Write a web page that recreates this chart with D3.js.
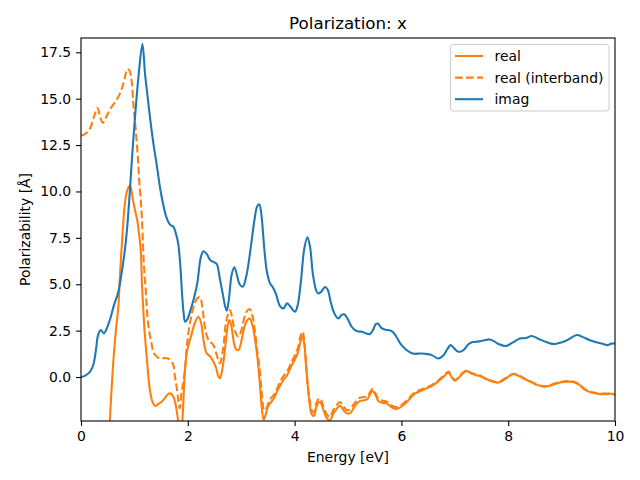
<!DOCTYPE html>
<html>
<head>
<meta charset="utf-8">
<script src="https://cdn.jsdelivr.net/npm/d3@7"></script>
<style>
  html, body { margin: 0; padding: 0; background: #fff; }
  svg { display: block; font-family: "DejaVu Sans", sans-serif; }
</style>
</head>
<body>
<svg id="chart" width="640" height="480"></svg>
<script>
// ---------------- data ----------------
const chartTitle = "Polarization: x";
const xLabel = "Energy [eV]";
const yLabel = "Polarizability [Å]";
const xTicks = [0, 2, 4, 6, 8, 10];
const yTicks = [0, 2.5, 5, 7.5, 10, 12.5, 15, 17.5];
const seriesNames = ["real", "real (interband)", "imag"];

const realE = [0.45,0.50,0.54,0.58,0.62,0.66,0.70,0.73,0.78,0.82,0.87,0.92,0.97,1.01,1.05,1.08,1.12,1.14,1.16,1.19,1.23,1.29,1.34,1.39,1.45,1.51,1.58,1.64,1.67,1.73,1.78,1.82,1.86,1.90,1.94,1.98,2.03,2.07,2.13,2.20,2.25,2.30,2.35,2.42,2.48,2.53,2.57,2.60,2.64,2.70,2.75,2.78,2.82,2.86,2.90,2.95,3.00,3.06,3.11,3.16,3.21,3.26,3.31,3.35,3.38,3.42,3.46,3.50,3.54,3.60,3.66,3.72,3.79,3.86,3.94,4.00,4.06,4.11,4.15,4.18,4.21,4.24,4.28,4.32,4.36,4.41,4.46,4.50,4.54,4.60,4.66,4.72,4.79,4.85,4.92,4.98,5.04,5.10,5.16,5.22,5.30,5.36,5.41,5.46,5.52,5.57,5.64,5.72,5.80,5.90,5.97,6.04,6.15,6.25,6.36,6.47,6.56,6.66,6.74,6.82,6.88,6.94,7.00,7.07,7.15,7.23,7.30,7.40,7.47,7.56,7.66,7.80,7.92,8.02,8.10,8.20,8.30,8.41,8.52,8.66,8.80,8.92,9.03,9.13,9.22,9.32,9.42,9.52,9.62,9.72,9.85,9.93,10.00];
const realV = [-12,-5.5,-2.4,-0.3,1.4,2.7,3.8,5.5,7.8,9.3,10.1,10.3,9.6,9.0,8.5,7.9,6.8,5.1,4.0,2.5,1.1,-0.7,-1.35,-1.56,-1.45,-1.33,-1.1,-0.9,-0.88,-1.06,-1.6,-2.4,-3.6,-2.3,0.0,1.3,1.9,2.3,2.9,3.25,2.9,1.9,1.3,1.1,0.82,0.5,0.05,-0.07,0.3,1.6,2.8,3.07,2.7,1.9,1.5,1.45,1.9,2.7,3.05,3.15,2.8,2.0,0.9,-0.4,-1.5,-2.3,-2.0,-1.6,-1.42,-1.2,-0.85,-0.5,-0.16,0.1,0.6,0.92,1.3,1.9,2.2,1.8,0.8,-0.3,-1.4,-2.0,-2.1,-1.6,-1.35,-1.45,-1.78,-2.2,-2.35,-2.0,-1.7,-1.55,-1.8,-1.96,-1.95,-1.7,-1.45,-1.3,-1.25,-1.2,-0.95,-0.75,-1.0,-1.3,-1.38,-1.42,-1.6,-1.72,-1.65,-1.51,-1.2,-0.9,-0.75,-0.61,-0.5,-0.3,-0.1,0.1,0.25,0.0,-0.2,-0.05,0.2,0.32,0.2,0.1,0.05,-0.08,-0.2,-0.31,-0.15,0.05,0.15,0.05,-0.1,-0.25,-0.4,-0.52,-0.45,-0.33,-0.27,-0.25,-0.27,-0.4,-0.65,-0.8,-0.88,-0.92,-0.92,-0.9,-0.97];

const interE = [0.00,0.08,0.17,0.24,0.31,0.36,0.41,0.47,0.54,0.62,0.70,0.76,0.81,0.87,0.91,0.95,0.98,1.01,1.04,1.07,1.09,1.12,1.14,1.16,1.18,1.21,1.23,1.27,1.32,1.36,1.39,1.44,1.50,1.56,1.63,1.69,1.73,1.76,1.79,1.82,1.85,1.88,1.92,1.95,1.98,2.01,2.06,2.12,2.18,2.23,2.27,2.32,2.37,2.42,2.48,2.54,2.60,2.66,2.72,2.79,2.83,2.88,2.95,3.01,3.07,3.12,3.16,3.21,3.26,3.31,3.35,3.39,3.43,3.47,3.51,3.54,3.60,3.66,3.72,3.79,3.86,3.94,4.00,4.06,4.11,4.15,4.18,4.21,4.24,4.28,4.32,4.36,4.41,4.46,4.50,4.54,4.60,4.66,4.72,4.79,4.85,4.92,4.98,5.04,5.10,5.16,5.22,5.30,5.36,5.41,5.46,5.52,5.57,5.64,5.72,5.80,5.90,5.97,6.04,6.15,6.25,6.36,6.47,6.56,6.66,6.74,6.82,6.88,6.94,7.00,7.07,7.15,7.23,7.30,7.40,7.47,7.56,7.66,7.80,7.92,8.02,8.10,8.20,8.30,8.41,8.52,8.66,8.80,8.92,9.03,9.13,9.22,9.32,9.42,9.52,9.62,9.72,9.85,9.93,10.00];
const interV = [13.0,13.1,13.4,14.0,14.5,14.0,13.7,14.0,14.4,14.75,15.1,15.5,16.0,16.6,16.5,15.9,14.75,13.8,12.8,11.6,10.6,9.5,8.6,7.2,5.95,4.8,3.79,2.6,1.82,1.3,1.19,1.05,1.0,1.02,1.0,0.85,0.65,0.0,-0.52,-1.2,-1.69,-0.9,-0.2,0.56,1.6,2.35,3.2,3.9,4.25,4.3,3.8,2.7,2.1,1.9,1.72,1.2,0.74,1.5,3.0,3.61,3.2,2.5,2.17,2.6,3.3,3.6,3.65,3.3,2.4,1.2,0.3,-1.0,-1.8,-1.7,-1.4,-1.2,-1.0,-0.7,-0.3,0.05,0.3,0.8,1.15,1.55,2.2,2.45,2.0,0.9,-0.2,-1.2,-1.8,-1.9,-1.4,-1.15,-1.25,-1.6,-2.0,-2.15,-1.8,-1.5,-1.35,-1.6,-1.78,-1.75,-1.5,-1.28,-1.12,-1.08,-1.05,-0.82,-0.63,-0.9,-1.18,-1.27,-1.32,-1.5,-1.62,-1.56,-1.42,-1.12,-0.83,-0.69,-0.56,-0.45,-0.26,-0.06,0.14,0.29,0.04,-0.16,-0.01,0.24,0.36,0.24,0.13,0.08,-0.05,-0.17,-0.28,-0.12,0.08,0.18,0.08,-0.07,-0.22,-0.37,-0.49,-0.42,-0.3,-0.24,-0.22,-0.24,-0.37,-0.62,-0.77,-0.85,-0.89,-0.89,-0.87,-0.94];

const imagE = [0.00,0.08,0.17,0.23,0.28,0.32,0.37,0.43,0.48,0.54,0.62,0.70,0.76,0.82,0.86,0.91,0.96,1.02,1.08,1.15,1.20,1.24,1.30,1.36,1.42,1.48,1.54,1.60,1.67,1.73,1.78,1.82,1.86,1.89,1.92,1.95,1.99,2.05,2.12,2.18,2.24,2.29,2.35,2.42,2.48,2.54,2.60,2.66,2.70,2.73,2.77,2.82,2.87,2.92,2.97,3.03,3.10,3.18,3.25,3.30,3.34,3.38,3.43,3.48,3.54,3.60,3.66,3.72,3.79,3.86,3.92,3.97,4.01,4.06,4.12,4.18,4.24,4.29,4.34,4.40,4.44,4.50,4.57,4.62,4.68,4.75,4.82,4.88,4.93,5.00,5.06,5.13,5.20,5.26,5.34,5.41,5.47,5.52,5.56,5.62,5.70,5.78,5.85,5.92,5.98,6.08,6.18,6.25,6.35,6.45,6.57,6.69,6.78,6.86,6.92,6.97,7.04,7.10,7.18,7.25,7.32,7.45,7.55,7.64,7.72,7.82,7.96,8.08,8.22,8.33,8.44,8.55,8.68,8.80,8.88,8.98,9.10,9.20,9.29,9.40,9.52,9.65,9.78,9.86,9.93,10.00];
const imagV = [0.00,0.08,0.29,0.65,1.46,2.26,2.53,2.35,2.6,3.07,3.9,4.6,5.6,6.8,7.9,9.8,12.0,14.3,16.3,17.95,16.3,15.3,13.8,12.5,11.4,10.2,9.3,8.6,8.2,8.1,7.7,7.2,6.0,4.6,3.5,2.98,3.1,3.6,4.3,5.1,6.4,6.78,6.65,6.3,6.2,6.1,5.3,4.4,3.8,3.58,4.2,5.5,5.92,5.5,5.0,4.87,5.5,7.0,8.5,9.2,9.3,8.7,7.0,5.7,5.05,4.8,4.4,3.85,3.7,3.97,3.8,3.6,3.52,3.9,5.2,6.9,7.53,7.0,5.6,4.7,4.5,4.6,4.85,4.7,4.0,3.4,3.16,3.35,3.38,3.1,2.75,2.53,2.45,2.44,2.35,2.32,2.55,2.85,2.88,2.65,2.55,2.52,2.4,2.1,1.8,1.5,1.3,1.25,1.27,1.25,1.18,1.0,1.15,1.5,1.72,1.6,1.4,1.36,1.5,1.75,1.87,1.92,1.98,2.03,1.95,1.78,1.67,1.85,2.08,2.1,2.21,2.08,1.92,1.8,1.78,1.85,1.98,2.15,2.26,2.15,2.0,1.88,1.78,1.72,1.80,1.81];

// ---------------- layout ----------------
const W = 640, H = 480;
const m = { left: 81, right: 615, top: 38, bottom: 421 };
const svg = d3.select("#chart");

const x = d3.scaleLinear().domain([0, 10]).range([m.left, m.right]);
const y = d3.scaleLinear().domain([-2.37, 18.27]).range([m.bottom, m.top]);

svg.append("defs").append("clipPath").attr("id", "clip")
  .append("rect").attr("x", m.left).attr("y", m.top)
  .attr("width", m.right - m.left).attr("height", m.bottom - m.top);

const series = [
  { name: seriesNames[0], e: realE, v: realV, color: "#ff7f0e", dash: null },
  { name: seriesNames[1], e: interE, v: interV, color: "#ff7f0e", dash: "7.7,3.3" },
  { name: seriesNames[2], e: imagE, v: imagV, color: "#1f77b4", dash: null }
];

const line = d3.line().x(d => x(d[0])).y(d => y(d[1])).curve(d3.curveCatmullRom.alpha(0.5));
const g = svg.append("g").attr("clip-path", "url(#clip)");
series.forEach(s => {
  g.append("path")
    .datum(s.e.map((e, i) => [e, s.v[i]]))
    .attr("d", line)
    .attr("fill", "none")
    .attr("stroke", s.color)
    .attr("stroke-width", 2.08)
    .attr("stroke-dasharray", s.dash)
    .attr("stroke-linejoin", "round")
    .attr("stroke-linecap", s.dash ? "butt" : "square");
});

// axes
const xAxis = d3.axisBottom(x).tickValues(xTicks).tickFormat(d3.format("d")).tickSizeOuter(0).tickSize(4.9).tickPadding(4.9);
const yAxis = d3.axisLeft(y).tickValues(yTicks).tickFormat(d3.format(".1f")).tickSizeOuter(0).tickSize(4.9).tickPadding(4.9);

const gx = svg.append("g").attr("transform", `translate(0,${m.bottom})`).call(xAxis);
const gy = svg.append("g").attr("transform", `translate(${m.left},0)`).call(yAxis);
[gx, gy].forEach(a => {
  a.select(".domain").remove();
  a.selectAll(".tick line").attr("stroke", "#000").attr("stroke-width", 1.1);
  a.selectAll(".tick text").attr("font-size", "13.9px").attr("fill", "#000")
    .attr("font-family", "DejaVu Sans, sans-serif");
});

// frame
svg.append("rect").attr("x", m.left).attr("y", m.top)
  .attr("width", m.right - m.left).attr("height", m.bottom - m.top)
  .attr("fill", "none").attr("stroke", "#000").attr("stroke-width", 1.1);

// labels
svg.append("text").attr("x", (m.left + m.right) / 2).attr("y", 29)
  .attr("text-anchor", "middle").attr("font-size", "16.7px").text(chartTitle);
svg.append("text").attr("x", (m.left + m.right) / 2).attr("y", 462)
  .attr("text-anchor", "middle").attr("font-size", "13.9px").text(xLabel);
svg.append("text").attr("transform", `translate(30,${(m.top + m.bottom) / 2}) rotate(-90)`)
  .attr("text-anchor", "middle").attr("font-size", "13.9px").text(yLabel);

// legend
const lg = svg.append("g");
lg.append("rect").attr("x", 450.5).attr("y", 44.5).attr("width", 158.5).attr("height", 66.5)
  .attr("rx", 3).attr("fill", "#fff").attr("fill-opacity", 0.8)
  .attr("stroke", "#ccc").attr("stroke-width", 1);
series.forEach((s, i) => {
  const yy = 56 + i * 21.6;
  lg.append("line").attr("x1", 455).attr("x2", 483).attr("y1", yy).attr("y2", yy)
    .attr("stroke", s.color).attr("stroke-width", 2.08).attr("stroke-dasharray", s.dash);
  lg.append("text").attr("x", 494.5).attr("y", yy + 5).attr("font-size", "13.9px").text(s.name);
});
</script>
</body>
</html>
